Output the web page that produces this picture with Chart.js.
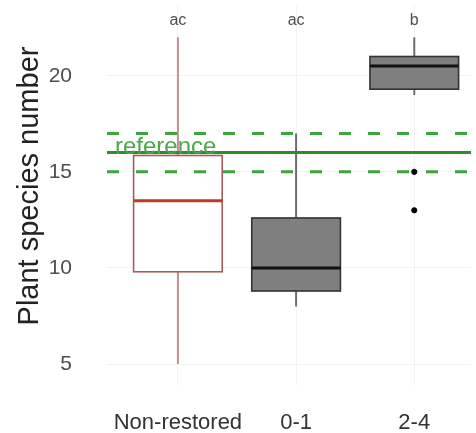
<!DOCTYPE html>
<html>
<head>
<meta charset="utf-8">
<script src="https://cdn.jsdelivr.net/npm/chart.js@4.4.1/dist/chart.umd.min.js"></script>
<style>
   html, body { margin:0; padding:0; background:#fff; }
   #wrap { width:476px; height:433px; }
</style>
</head>
<body>
<div id="wrap"><canvas id="chart" width="476" height="433"></canvas></div>
<script>

// data
let categories = ["Non-restored","0-1","2-4"];
let whiskerLow = [5, 8, 19];
let q1Values = [9.8, 8.8, 19.3];
let medians = [13.5, 10, 20.5];
let q3Values = [15.85, 12.6, 21];
let whiskerHigh = [22, 17, 22];
let outlierGroup = [3, 3];
let outlierValues = [15, 13];
let groupLetters = ["ac","ac","b"];
let referenceValue = 16;
let referenceBand = [15, 17];
let yTicks = [5, 10, 15, 20];

let FONT = "'Liberation Sans', Arial, sans-serif";

let boxStyles = [
   { fill:"#ffffff", border:"#a85a5a", whisker:"#c09090", median:"#c0392b" },
   { fill:"#7f7f7f", border:"#333333", whisker:"#6e6e6e", median:"#111111" },
   { fill:"#7f7f7f", border:"#333333", whisker:"#6e6e6e", median:"#111111" }
];

let boxPlugin = {

   id: "boxes",

   beforeDatasetsDraw: function(chart){

      let ctx = chart.ctx;
      let xs = chart.scales.x;
      let ys = chart.scales.y;
      let half = 0.375;

      categories.forEach(function(cat, i){

         let st = boxStyles[i];
         let xc = xs.getPixelForValue(i + 1);
         let xl = xs.getPixelForValue(i + 1 - half);
         let xr = xs.getPixelForValue(i + 1 + half);

         ctx.save();

         // whiskers
         ctx.strokeStyle = st.whisker;
         ctx.lineWidth = 2;
         ctx.beginPath();
         ctx.moveTo(xc, ys.getPixelForValue(whiskerHigh[i]));
         ctx.lineTo(xc, ys.getPixelForValue(q3Values[i]));
         ctx.moveTo(xc, ys.getPixelForValue(q1Values[i]));
         ctx.lineTo(xc, ys.getPixelForValue(whiskerLow[i]));
         ctx.stroke();

         // box
         let yTop = ys.getPixelForValue(q3Values[i]);
         let yBot = ys.getPixelForValue(q1Values[i]);
         ctx.fillStyle = st.fill;
         ctx.fillRect(xl, yTop, xr - xl, yBot - yTop);
         ctx.strokeStyle = st.border;
         ctx.lineWidth = 1.6;
         ctx.strokeRect(xl, yTop, xr - xl, yBot - yTop);

         // median
         let ym = ys.getPixelForValue(medians[i]);
         ctx.strokeStyle = st.median;
         ctx.lineWidth = 3;
         ctx.beginPath();
         ctx.moveTo(xl, ym);
         ctx.lineTo(xr, ym);
         ctx.stroke();

         ctx.restore();

      });

   },

   afterDatasetsDraw: function(chart){

      let ctx = chart.ctx;
      let xs = chart.scales.x;
      let ys = chart.scales.y;

      ctx.save();

      // significance letters
      ctx.font = "16px " + FONT;
      ctx.fillStyle = "#4d4d4d";
      ctx.textAlign = "center";
      ctx.textBaseline = "middle";
      groupLetters.forEach(function(l, i){
         ctx.fillText(l, xs.getPixelForValue(i + 1), ys.getPixelForValue(22.85));
      });

      // reference label
      ctx.font = "24px " + FONT;
      ctx.fillStyle = "#4aa84a";
      ctx.textAlign = "left";
      ctx.textBaseline = "alphabetic";
      ctx.fillText("reference", xs.left + 8, ys.getPixelForValue(referenceValue) + 1);

      // y axis title
      ctx.translate(38, 186);
      ctx.rotate(-Math.PI / 2);
      ctx.font = "29px " + FONT;
      ctx.fillStyle = "#222222";
      ctx.textAlign = "center";
      ctx.fillText("Plant species number", 0, 0);

      ctx.restore();

   }

};

let xMin = 0.4;
let xMax = 3.48;

function hLine(value){

   return [ { x:xMin, y:value }, { x:xMax, y:value } ];

}

let ctx = document.getElementById("chart").getContext("2d");

new Chart(ctx, {

   type: "scatter",

   data: {

      datasets: [

         {
            type: "line",
            data: hLine(referenceValue),
            borderColor: "#2e8b2e",
            borderWidth: 3,
            pointRadius: 0,
            order: 3
         },

         {
            type: "line",
            data: hLine(referenceBand[0]),
            borderColor: "#3fa33f",
            borderWidth: 3,
            borderDash: [12, 17],
            pointRadius: 0,
            order: 3
         },

         {
            type: "line",
            data: hLine(referenceBand[1]),
            borderColor: "#3fa33f",
            borderWidth: 3,
            borderDash: [12, 17],
            pointRadius: 0,
            order: 3
         },

         {
            data: outlierGroup.map(function(g, i){
               return { x:g, y:outlierValues[i] };
            }),
            backgroundColor: "#000000",
            borderColor: "#000000",
            pointRadius: 2.6,
            order: 1
         }

      ]

   },

   options: {

      responsive: false,
      animation: false,
      clip: false,

      layout: { padding: 0 },

      plugins: {
         legend: { display: false },
         tooltip: { enabled: false }
      },

      scales: {

         x: {
            type: "linear",
            min: xMin,
            max: xMax,
            afterBuildTicks: function(axis){
               axis.ticks = [1, 2, 3].map(function(v){ return { value:v }; });
            },
            afterFit: function(axis){
               axis.height = 48;
               axis.paddingLeft = 0;
               axis.paddingRight = 0;
            },
            ticks: {
               callback: function(v){ return categories[v - 1]; },
               color: "#333333",
               padding: 25,
               maxRotation: 0,
               font: { family: FONT, size: 22 }
            },
            grid: { color: "#f2f2f2", lineWidth: 1, drawTicks: false },
            border: { display: false }
         },

         y: {
            min: 3.91,
            max: 23.68,
            afterBuildTicks: function(axis){
               axis.ticks = yTicks.map(function(v){ return { value:v }; });
            },
            afterFit: function(axis){
               axis.width = 107;
               axis.paddingTop = 0;
               axis.paddingBottom = 0;
            },
            ticks: {
               color: "#4d4d4d",
               padding: 35,
               font: { family: FONT, size: 21 }
            },
            title: { display: false },
            grid: { color: "#f2f2f2", lineWidth: 1, drawTicks: false },
            border: { display: false }
         }

      }

   },

   plugins: [boxPlugin]

});

</script>
</body>
</html>
